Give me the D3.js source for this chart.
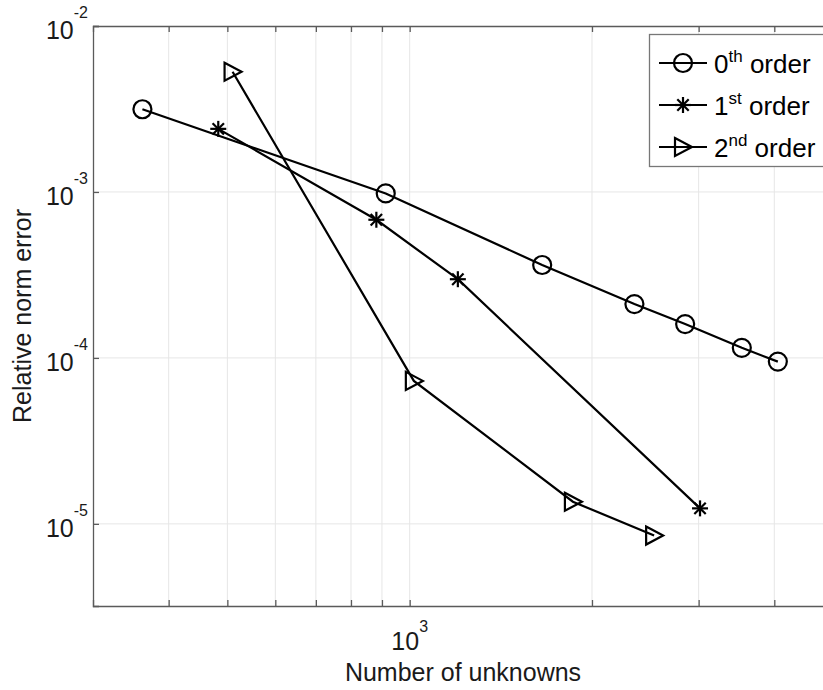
<!DOCTYPE html>
<html lang="en">
<head>
    <meta charset="UTF-8">
    <title>Relative norm error vs number of unknowns</title>
    <script src="https://d3js.org/d3.v7.min.js"></script>
    <style>
        body {
            margin: 0;
            background: #ffffff;
            font-family: "Liberation Sans", Arial, sans-serif;
        }
    </style>
</head>
<body>
    <main></main>
</body>
</html>

<script>
    // values
    var unknowns0 = [362, 913, 1655, 2350, 2850, 3535, 4054];
    var error0 = [3.15e-3, 9.8e-4, 3.63e-4, 2.11e-4, 1.6e-4, 1.15e-4, 9.5e-5];

    var unknowns1 = [483, 881, 1201, 3016];
    var error1 = [2.4e-3, 6.8e-4, 2.98e-4, 1.24e-5];

    var unknowns2 = [510, 1016, 1860, 2533];
    var error2 = [5.3e-3, 7.27e-5, 1.36e-5, 8.5e-6];

    var seriesNames = [['0', 'th', ' order'], ['1', 'st', ' order'], ['2', 'nd', ' order']];
    var seriesMarkers = ['circle', 'star', 'triangle'];

    var xTicks = [400, 500, 600, 700, 800, 900, 1000, 2000, 3000, 4000];
    var xLabelled = [1000];
    var yTicks = [1e-5, 1e-4, 1e-3, 1e-2];

    var xDomain = [300, 5000];
    var yDomain = [3.2e-6, 1e-2];

    var w = 823, h = 690;
    var m = {top: 26, left: 93, bottom: 84, right: -10};
    var innerW = w - m.left - m.right;
    var innerH = h - m.top - m.bottom;

    var xScale = d3.scaleLog().domain(xDomain).range([0, innerW]);
    var yScale = d3.scaleLog().domain(yDomain).range([innerH, 0]);

    var svg = d3.select('main')
                .append('svg')
                .attr('width', w)
                .attr('height', h)
                .style('display', 'block');

    var plot = svg.append('g')
                  .attr('transform', 'translate(' + m.left + ',' + m.top + ')');

    // grid
    plot.append('g').selectAll('line')
        .data(xTicks)
        .enter()
        .append('line')
        .attr('x1', function(d){ return xScale(d); })
        .attr('x2', function(d){ return xScale(d); })
        .attr('y1', 0)
        .attr('y2', innerH)
        .style('stroke', '#e6e6e6')
        .style('stroke-width', 1);

    plot.append('g').selectAll('line')
        .data(yTicks.slice(0, 3))
        .enter()
        .append('line')
        .attr('x1', 0)
        .attr('x2', innerW)
        .attr('y1', function(d){ return yScale(d); })
        .attr('y2', function(d){ return yScale(d); })
        .style('stroke', '#e6e6e6')
        .style('stroke-width', 1);

    // axes, ticks inward like matlab
    var xAxis = d3.axisBottom(xScale).tickValues(xTicks).tickSize(-6).tickFormat('');
    var xAxisTop = d3.axisTop(xScale).tickValues(xTicks).tickSize(-6).tickFormat('');
    var yAxis = d3.axisLeft(yScale).tickValues(yTicks).tickSize(-6).tickFormat('');

    plot.append('g').attr('id', 'x-axis').attr('transform', 'translate(0,' + innerH + ')').call(xAxis);
    plot.append('g').attr('transform', 'translate(0,0)').call(xAxisTop);
    plot.append('g').attr('id', 'y-axis').call(yAxis);

    plot.selectAll('.domain').style('stroke', '#5a5a5a').style('stroke-width', 1.3);
    plot.selectAll('.tick line').style('stroke', '#5a5a5a').style('stroke-width', 1.3);

    // y tick labels 10^n
    yTicks.forEach(function(t){
        var txt = svg.append('text')
            .attr('x', m.left - 5)
            .attr('y', m.top + yScale(t) + 13)
            .attr('text-anchor', 'end')
            .style('font-size', '25px')
            .style('fill', '#1a1a1a');
        txt.append('tspan').text('10');
        txt.append('tspan')
            .attr('dy', -21)
            .style('font-size', '16px')
            .text(String(Math.round(Math.log10(t))));
    });

    // x tick label
    xLabelled.forEach(function(t){
        var txt = svg.append('text')
            .attr('x', m.left + xScale(t))
            .attr('y', m.top + innerH + 44)
            .attr('text-anchor', 'middle')
            .style('font-size', '25px')
            .style('fill', '#1a1a1a');
        txt.append('tspan').text('10');
        txt.append('tspan')
            .attr('dy', -18)
            .style('font-size', '16px')
            .text(String(Math.round(Math.log10(t))));
    });

    svg.append('text')
        .attr('x', m.left + innerW / 2)
        .attr('y', 681)
        .attr('text-anchor', 'middle')
        .style('font-size', '25px')
        .style('fill', '#1a1a1a')
        .text('Number of unknowns');

    svg.append('text')
        .attr('transform', 'translate(31,' + (m.top + innerH / 2) + ') rotate(-90)')
        .attr('text-anchor', 'middle')
        .style('font-size', '25px')
        .style('fill', '#1a1a1a')
        .text('Relative norm error');

    // markers
    function drawMarker(g, type, x, y){
        if (type === 'circle'){
            g.append('circle')
             .attr('cx', x).attr('cy', y).attr('r', 9)
             .style('fill', 'none').style('stroke', '#000').style('stroke-width', 2.2);
        } else if (type === 'star'){
            var s = 8, d = 5.7;
            var arms = [[-s, 0, s, 0], [0, -s, 0, s], [-d, -d, d, d], [-d, d, d, -d]];
            arms.forEach(function(a){
                g.append('line')
                 .attr('x1', x + a[0]).attr('y1', y + a[1])
                 .attr('x2', x + a[2]).attr('y2', y + a[3])
                 .style('stroke', '#000').style('stroke-width', 2.2);
            });
        } else {
            g.append('path')
             .attr('d', 'M' + (x - 8) + ',' + (y - 9) + 'L' + (x + 9) + ',' + y + 'L' + (x - 8) + ',' + (y + 9) + 'Z')
             .style('fill', 'none').style('stroke', '#000').style('stroke-width', 2.2)
             .style('stroke-linejoin', 'miter');
        }
    }

    var allX = [unknowns0, unknowns1, unknowns2];
    var allY = [error0, error1, error2];

    var line = d3.line()
                 .x(function(d){ return xScale(d[0]); })
                 .y(function(d){ return yScale(d[1]); });

    allX.forEach(function(xs, i){
        var pts = xs.map(function(x, j){ return [x, allY[i][j]]; });
        var g = plot.append('g').attr('class', 'series');
        g.append('path')
         .datum(pts)
         .attr('d', line)
         .style('fill', 'none')
         .style('stroke', '#000')
         .style('stroke-width', 2.2);
        pts.forEach(function(p){
            drawMarker(g, seriesMarkers[i], xScale(p[0]), yScale(p[1]));
        });
    });

    // legend
    var legend = svg.append('g').attr('id', 'legend');
    legend.append('rect')
          .attr('x', 649.5)
          .attr('y', 34.5)
          .attr('width', 180)
          .attr('height', 132)
          .style('fill', '#fff')
          .style('stroke', '#777')
          .style('stroke-width', 1.3);

    seriesNames.forEach(function(name, i){
        var yy = 63 + i * 42;
        legend.append('line')
              .attr('x1', 659).attr('x2', 707)
              .attr('y1', yy).attr('y2', yy)
              .style('stroke', '#000').style('stroke-width', 2.2);
        drawMarker(legend, seriesMarkers[i], 683, yy);
        var txt = legend.append('text')
              .attr('x', 714)
              .attr('y', yy + 10)
              .style('font-size', '26px')
              .style('fill', '#000');
        txt.append('tspan').text(name[0]);
        txt.append('tspan').attr('dy', -11).style('font-size', '17px').text(name[1]);
        txt.append('tspan').attr('dy', 11).text(name[2]);
    });
</script>
